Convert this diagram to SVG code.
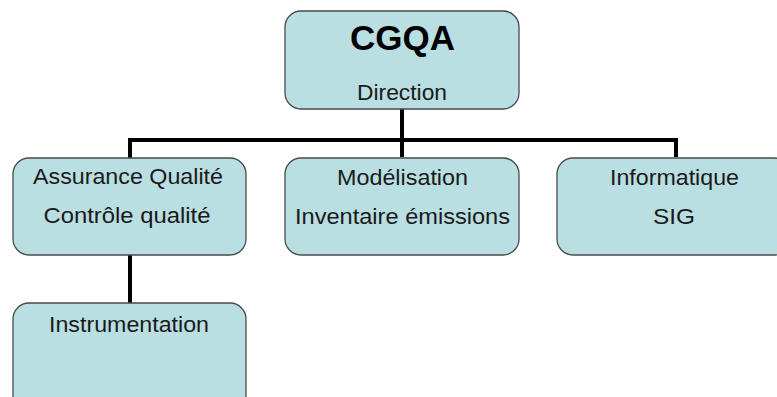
<svg xmlns="http://www.w3.org/2000/svg" width="777" height="397" viewBox="0 0 777 397">
<style>
.box{fill:#b9dfe2;stroke:#4a4a4a;stroke-width:1.3}
.t{font-family:"Liberation Sans",Arial,sans-serif;font-size:22px;fill:#1a1a1a;text-anchor:middle}
.h{font-family:"Liberation Sans",Arial,sans-serif;font-size:35px;font-weight:bold;fill:#000;text-anchor:middle}
.c{fill:none;stroke:#000;stroke-width:4}
</style>
<rect width="777" height="397" fill="#fff"/>
<g id="connectors">
<path class="c" d="M402 109V140M128 140H676V157M130 138V158M402 140V157M130 255V303"/>
</g>
<g id="cgqa">
<rect class="box" x="285" y="11" width="234" height="98" rx="16"/>
<text class="h" x="402.5" y="50" textLength="105" lengthAdjust="spacingAndGlyphs">CGQA</text>
<text class="t" x="402" y="100" textLength="90" lengthAdjust="spacingAndGlyphs">Direction</text>
</g>
<g id="assurance">
<rect class="box" x="13" y="158" width="233" height="97" rx="16"/>
<text class="t" x="128" y="184" textLength="190" lengthAdjust="spacingAndGlyphs">Assurance Qualité</text>
<text class="t" x="127" y="223" textLength="167" lengthAdjust="spacingAndGlyphs">Contrôle qualité</text>
</g>
<g id="modelisation">
<rect class="box" x="285" y="158" width="234" height="97" rx="16"/>
<text class="t" x="402.5" y="185" textLength="131" lengthAdjust="spacingAndGlyphs">Modélisation</text>
<text class="t" x="402.5" y="224" textLength="215" lengthAdjust="spacingAndGlyphs">Inventaire émissions</text>
</g>
<g id="informatique">
<rect class="box" x="557" y="158" width="233" height="97" rx="16"/>
<text class="t" x="674.5" y="185" textLength="129" lengthAdjust="spacingAndGlyphs">Informatique</text>
<text class="t" x="674" y="224" textLength="42" lengthAdjust="spacingAndGlyphs">SIG</text>
</g>
<g id="instrumentation">
<rect class="box" x="13" y="303" width="233" height="110" rx="16"/>
<text class="t" x="129" y="332" textLength="160" lengthAdjust="spacingAndGlyphs">Instrumentation</text>
</g>
</svg>
